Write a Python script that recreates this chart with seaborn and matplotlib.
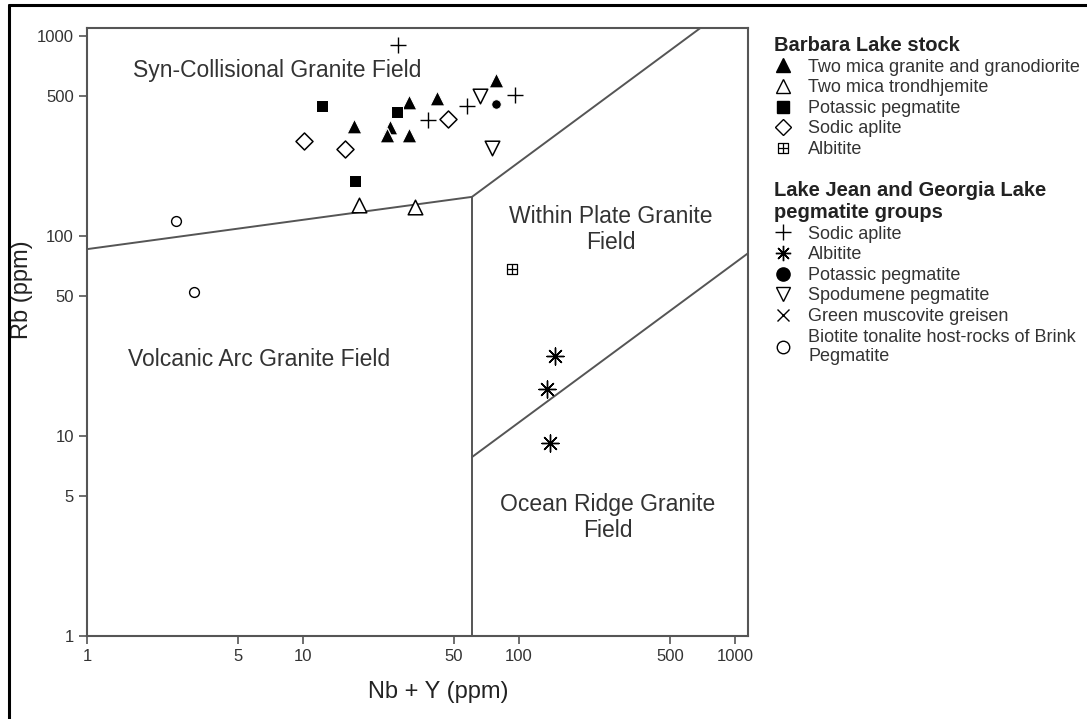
import numpy as np
import pandas as pd
import matplotlib.pyplot as plt
import seaborn as sns
from matplotlib.path import Path
from matplotlib.lines import Line2D
from matplotlib.markers import MarkerStyle

# ── Rb vs Nb+Y data ────────────────────────────────────
bl_granite_x = [17.2, 31.1, 41.6, 25.3, 24.4, 31.1, 78.3]
bl_granite_y = [355, 469, 488, 349, 320, 320, 603]
bl_trond_x = [18.1, 33.0]
bl_trond_y = [143, 139]
bl_kpeg_x = [12.3, 27.3, 17.4]
bl_kpeg_y = [447, 418, 188]
bl_aplite_x = [10.1, 15.7, 47.1]
bl_aplite_y = [300, 271, 385]
bl_albitite_x = [92.5]
bl_albitite_y = [68.1]

lj_aplite_x = [27.5, 38.0, 57.6, 95.8]
lj_aplite_y = [902, 380, 447, 507]
lj_albitite_x = [146.8, 134.4, 139.2]
lj_albitite_y = [25.2, 17.2, 9.2]
lj_kpeg_x = [78.3]
lj_kpeg_y = [455]
lj_spod_x = [66.0, 75.2]
lj_spod_y = [501, 274]
host_x = [2.58, 3.14]
host_y = [119, 52.7]

# field boundaries (Pearce et al. style)
b1_x, b1_y = [1, 60.6], [86, 157]
b2_x, b2_y = [60.6, 696], [157, 1103]
b3_x, b3_y = [60.6, 60.6], [157, 1]
b4_x, b4_y = [60.6, 1148], [7.85, 82]

sns.set_style("ticks")
plt.rcParams["font.family"] = ["Liberation Sans", "DejaVu Sans"]

boxplus = MarkerStyle(Path(
    [(-1, -1), (1, -1), (1, 1), (-1, 1), (-1, -1), (0, -1), (0, 1), (-1, 0), (1, 0)],
    [Path.MOVETO, Path.LINETO, Path.LINETO, Path.LINETO, Path.CLOSEPOLY,
     Path.MOVETO, Path.LINETO, Path.MOVETO, Path.LINETO]))
asterisk = (8, 2, 0)

fig = plt.figure(figsize=(10.87, 7.19), dpi=100)
ax = fig.add_axes([0.0800, 0.1154, 0.6081, 0.8463])

# ── boundaries ─────────────────────────────────────────
for bx, by in [(b1_x, b1_y), (b2_x, b2_y), (b3_x, b3_y), (b4_x, b4_y)]:
    ax.plot(bx, by, color="#555555", lw=1.4, zorder=1)

# ── samples ────────────────────────────────────────────
groups = [
    (bl_granite_x, bl_granite_y, "^", 115, dict(color="black")),
    (bl_trond_x, bl_trond_y, "^", 110, dict(facecolor="white", edgecolor="black", linewidth=1.1)),
    (bl_kpeg_x, bl_kpeg_y, "s", 85, dict(color="black")),
    (bl_aplite_x, bl_aplite_y, "D", 75, dict(facecolor="white", edgecolor="black", linewidth=1.1)),
    (bl_albitite_x, bl_albitite_y, boxplus, 60, dict(facecolor="white", edgecolor="black", linewidth=0.9)),
    (lj_aplite_x, lj_aplite_y, "+", 140, dict(color="black", linewidth=1.0)),
    (lj_albitite_x, lj_albitite_y, asterisk, 150, dict(color="black", linewidth=1.0)),
    (lj_kpeg_x, lj_kpeg_y, "o", 45, dict(color="black")),
    (lj_spod_x, lj_spod_y, "v", 110, dict(facecolor="white", edgecolor="black", linewidth=1.1)),
    (host_x, host_y, "o", 50, dict(facecolor="white", edgecolor="black", linewidth=1.0)),
]
for gx, gy, m, s, kw in groups:
    d = pd.DataFrame({"x": gx, "y": gy})
    sns.scatterplot(data=d, x="x", y="y", marker=m, s=s, ax=ax, zorder=3, **kw)

ax.set_xscale("log")
ax.set_yscale("log")
ax.set_xlim(1, 1148)
ax.set_ylim(1, 1103)
ticks = [1, 5, 10, 50, 100, 500, 1000]
ax.set_xticks(ticks)
ax.set_xticklabels([str(t) for t in ticks])
ax.set_yticks(ticks)
ax.set_yticklabels([str(t) for t in ticks])
ax.minorticks_off()
ax.tick_params(direction="out", length=6, width=1.2, color="#555555",
               labelsize=12, labelcolor="#333333")
for sp in ax.spines.values():
    sp.set_color("#555555")
    sp.set_linewidth(1.5)

ax.set_xlabel("Nb + Y (ppm)", fontsize=17, color="#222222")
ax.set_ylabel("Rb (ppm)", fontsize=17, color="#222222")
ax.xaxis.set_label_coords(0.531, -0.074)
ax.yaxis.set_label_coords(-0.082, 0.570)

# ── field names ────────────────────────────────────────
tc = "#333333"
ax.text(1.63, 676, "Syn-Collisional Granite Field", fontsize=16.5, color=tc, ha="left", va="center")
ax.text(1.55, 24, "Volcanic Arc Granite Field", fontsize=16.5, color=tc, ha="left", va="center")
ax.text(267, 108, "Within Plate Granite\nField", fontsize=16.5, color=tc, ha="center", va="center",
        linespacing=1.15)
ax.text(258, 3.9, "Ocean Ridge Granite\nField", fontsize=16.5, color=tc, ha="center", va="center",
        linespacing=1.15)

# ── legends ────────────────────────────────────────────
def h(m, fc, ms=9, mew=1.0):
    return Line2D([], [], marker=m, linestyle="none", markersize=ms,
                  markerfacecolor=fc, markeredgecolor="black", color="black", markeredgewidth=mew)

bl_handles = [h("^", "black", 10), h("^", "white", 10), h("s", "black", 8.5), h("D", "white", 8),
              h(boxplus, "white", 7, 0.9)]
bl_labels = ["Two mica granite and granodiorite", "Two mica trondhjemite", "Potassic pegmatite",
             "Sodic aplite", "Albitite"]
lj_handles = [h("+", "black", 11), h(asterisk, "black", 11), h("o", "black", 9.5), h("v", "white", 10),
              h("x", "black", 8), h("o", "white", 9)]
lj_labels = ["Sodic aplite", "Albitite", "Potassic pegmatite", "Spodumene pegmatite",
             "Green muscovite greisen", "Biotite tonalite host-rocks of Brink\nPegmatite"]

leg_kw = dict(loc="upper left", bbox_transform=fig.transFigure, frameon=False, borderpad=0,
              fontsize=13, handlelength=1.0, handletextpad=0.9, labelspacing=0.2,
              alignment="left", title_fontproperties={"weight": "bold", "size": 14.5})
leg1 = fig.legend(bl_handles, bl_labels, title="Barbara Lake stock",
                  bbox_to_anchor=(765 / 1087, 1 - 27 / 719), **leg_kw)
leg2 = fig.legend(lj_handles, lj_labels, title="Lake Jean and Georgia Lake\npegmatite groups",
                  bbox_to_anchor=(765 / 1087, 1 - 172 / 719), **leg_kw)
for lg in (leg1, leg2):
    for t in lg.get_texts():
        t.set_color("#333333")
    lg.get_title().set_color("#222222")

# ── outer frame (top and left edges) ───────────────────
fig.add_artist(Line2D([9 / 1087, 9 / 1087], [0, 1 - 5 / 719], color="black", lw=2.2,
                      transform=fig.transFigure))
fig.add_artist(Line2D([9 / 1087, 1], [1 - 5 / 719, 1 - 5 / 719], color="black", lw=2.2,
                      transform=fig.transFigure))

fig.savefig("out.png", dpi=100)
